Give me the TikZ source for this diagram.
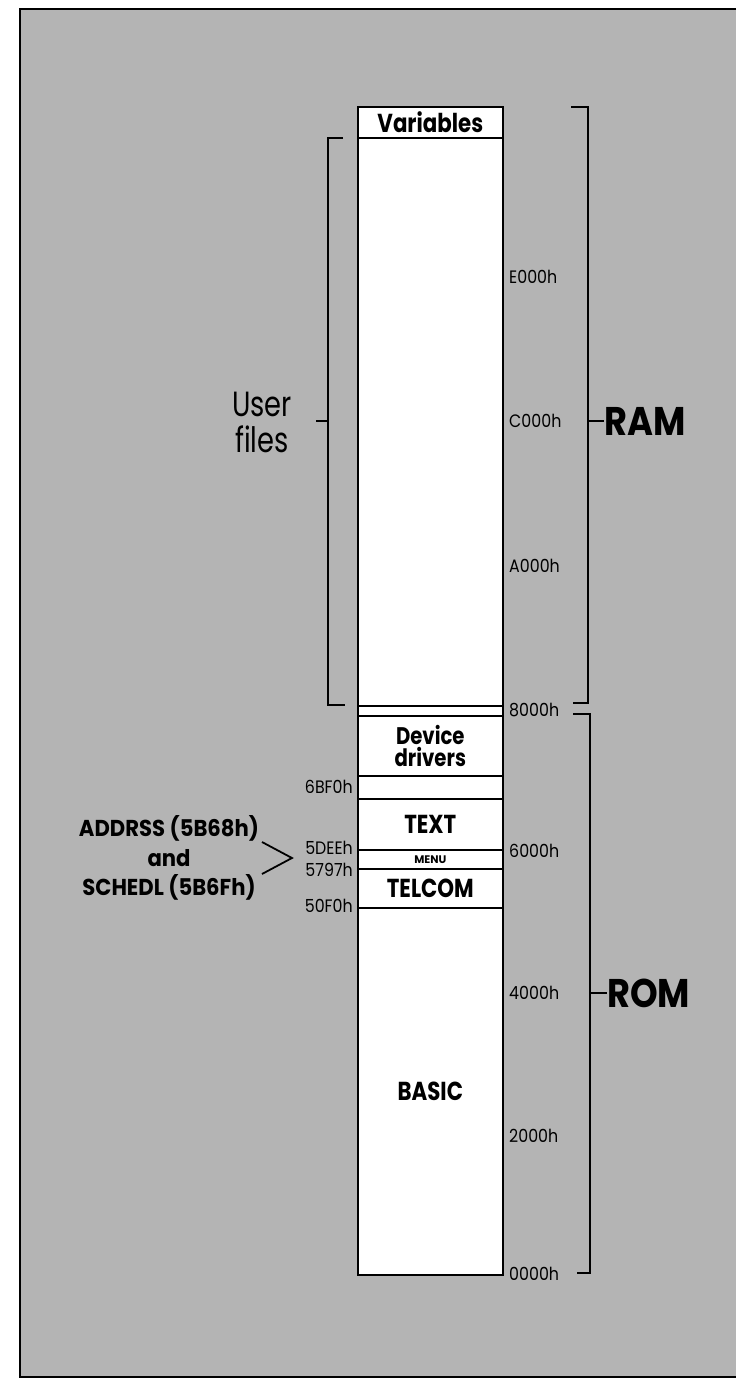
\documentclass[tikz,border=0pt]{standalone}
\usepackage{fontspec}
\setmainfont{Poppins}
\newfontfamily\narrowfont[FakeStretch=0.82]{Poppins}
\newfontfamily\midfont[FakeStretch=0.88]{Poppins}
\newfontfamily\wideishfont[FakeStretch=0.92]{Poppins}
\newfontfamily\userfont[FakeStretch=0.78]{Poppins}
\definecolor{bggray}{RGB}{180,180,180}
\tikzset{
  seg/.style={draw=black, line width=1.6pt, fill=white, inner sep=0pt,
    minimum width=145pt, anchor=north west, font=\narrowfont\bfseries\fontsize{26}{28}\selectfont},
  brk/.style={line width=1.8pt},
  addr/.style={inner sep=0pt, font=\midfont\fontsize{18}{19}\selectfont},
  big/.style={inner sep=0pt, font=\midfont\bfseries\fontsize{40}{42}\selectfont},
}
\begin{document}
\begin{tikzpicture}[x=1pt,y=-1pt]
\useasboundingbox (0,0) rectangle (736,1378);
\fill[bggray] (20,9) rectangle (736,1377);
\draw[line width=1.5pt] (736,9) -- (20,9) -- (20,1377) -- (736,1377);
% column
\node[seg, minimum height=31pt] (var) at (357,106) {Variables};
\node[seg, minimum height=568pt] (user) at (357,137) {};
\node[seg, minimum height=10pt] (s1) at (357,705) {};
\node[seg, minimum height=60pt, align=center, font=\narrowfont\bfseries\fontsize{24}{22.5}\selectfont] (dev) at (357,715) {Device\\drivers};
\node[seg, minimum height=23pt] (s2) at (357,775) {};
\node[seg, minimum height=51pt] (text) at (357,798) {TEXT};
\node[seg, minimum height=19pt, font=\bfseries\fontsize{11}{12}\selectfont] (menu) at (357,849) {MENU};
\node[seg, minimum height=39pt] (telcom) at (357,868) {TELCOM};
\node[seg, minimum height=367pt] (basic) at (357,907) {BASIC};
% right addresses
\node[addr, anchor=west] (aE) at (509,277) {E000h};
\node[addr, anchor=west] (aC) at (509,421) {C000h};
\node[addr, anchor=west] (aA) at (509,566) {A000h};
\node[addr, anchor=west] (a8) at (509,710) {8000h};
\node[addr, anchor=west] (a6) at (509,851) {6000h};
\node[addr, anchor=west] (a4) at (509,993) {4000h};
\node[addr, anchor=west] (a2) at (509,1136) {2000h};
\node[addr, anchor=west] (a0) at (509,1274) {0000h};
% left addresses
\node[addr, anchor=east] (l6b) at (353,787) {6BF0h};
\node[addr, anchor=east] (l5d) at (353,848) {5DEEh};
\node[addr, anchor=east] (l57) at (353,870) {5797h};
\node[addr, anchor=east] (l50) at (353,906) {50F0h};
% user files bracket
\draw[brk] (343,138) -- (328,138) -- (328,705) -- (345,705);
\coordinate (ut) at (328,421);
\node[inner sep=0pt, align=center, font=\userfont\fontsize{35}{36}\selectfont] (uf) at (262,422) {User\\files};
\draw[brk] (ut) -- (316,421);
% RAM bracket
\draw[brk] (571,107) -- (588,107) -- (588,703) -- (573,703);
\node[big, anchor=west] (ram) at (604,421) {RAM};
\draw[brk] (588,421) -- (ram.west);
% ROM bracket
\draw[brk] (573,714) -- (590,714) -- (590,1273) -- (577,1273);
\node[big, anchor=west] (rom) at (607,993) {ROM};
\draw[brk] (590,993) -- (rom.west);
% ADDRSS label and chevron
\node[inner sep=0pt, align=center, font=\wideishfont\bfseries\fontsize{23}{29.5}\selectfont] (lbl) at (169,858) {ADDRSS (5B68h)\\and\\SCHEDL (5B6Fh)};
\coordinate (c1) at (262,842);
\coordinate (ctip) at (292,858);
\coordinate (c2) at (262,874);
\draw[line width=1.8pt] (c1) -- (ctip) -- (c2);
\end{tikzpicture}
\end{document}
